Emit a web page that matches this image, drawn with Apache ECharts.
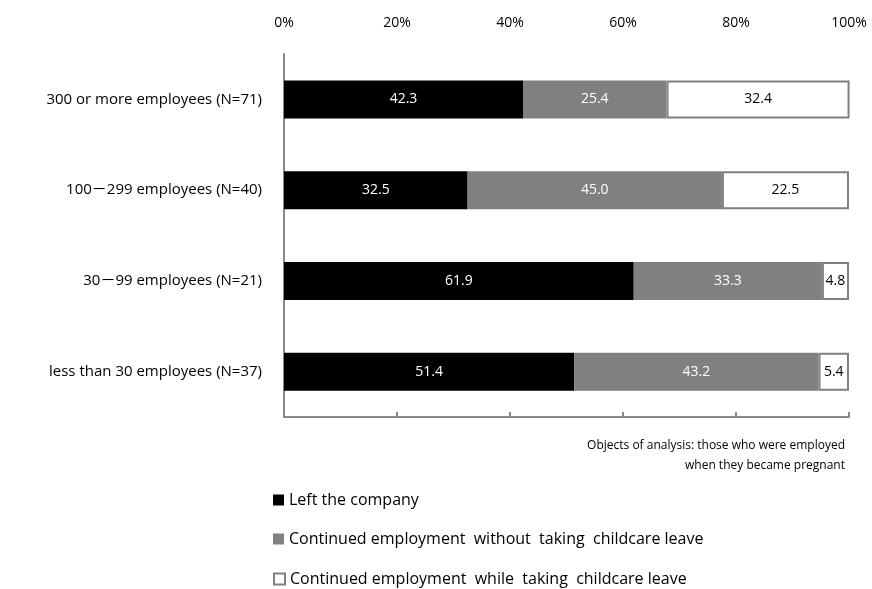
<!DOCTYPE html>
<html><head><meta charset="utf-8">
<script src="https://cdn.jsdelivr.net/npm/echarts@6/dist/echarts.min.js"></script>
<style>html,body{margin:0;padding:0;background:#fff}#c{width:872px;height:589px}</style>
</head><body><div id="c"></div>
<script>
const categories = ['300 or more employees (N=71)', '100－299 employees (N=40)', '30－99 employees (N=21)', 'less than 30 employees (N=37)'];
const leftCompany = [42.3, 32.5, 61.9, 51.4];
const continuedWithout = [25.4, 45.0, 33.3, 43.2];
const continuedWhile = [32.4, 22.5, 4.8, 5.4];
const seriesNames = ['Left the company', 'Continued employment  without  taking  childcare leave', 'Continued employment  while  taking  childcare leave'];
const tickLabels = ['0%', '20%', '40%', '60%', '80%', '100%'];

const FONT = '"Open Sans", "Noto Sans CJK JP", sans-serif';
const chart = echarts.init(document.getElementById('c'));
const lbl = (color) => ({show: true, position: 'inside', color: color, fontFamily: FONT, fontSize: 14, formatter: p => p.value.toFixed(1)});
const legendTops = [487, 526, 566];
const legendIconStyles = [
  {color: '#000000', borderWidth: 0},
  {color: '#808080', borderWidth: 0},
  {color: '#ffffff', borderColor: '#808080', borderWidth: 2}
];
chart.setOption({
  animation: false,
  textStyle: {fontFamily: FONT},
  grid: {left: 284, right: 23, top: 54, bottom: 172},
  xAxis: [
    {type: 'value', min: 0, max: 100, interval: 20, position: 'bottom',
     axisLine: {show: true, lineStyle: {color: '#898989', width: 2}},
     axisTick: {show: true, inside: true, length: 5, lineStyle: {color: '#898989', width: 2}},
     axisLabel: {show: false}, splitLine: {show: false}},
    {type: 'value', min: 0, max: 100, interval: 20, position: 'top',
     axisLine: {show: false}, axisTick: {show: false}, splitLine: {show: false},
     axisLabel: {show: true, margin: 24, color: '#000', fontSize: 14, fontFamily: FONT,
       formatter: v => tickLabels[v / 20]}}
  ],
  yAxis: {type: 'category', data: categories, inverse: true,
    axisLine: {show: true, lineStyle: {color: '#898989', width: 2}},
    axisTick: {show: false},
    axisLabel: {color: '#000', fontSize: 15, margin: 22, fontFamily: FONT}},
  legend: seriesNames.map((n, i) => ({orient: 'vertical', left: 268, top: legendTops[i], itemWidth: 11, itemHeight: 11,
    textStyle: {fontSize: 16, color: '#000', fontFamily: FONT},
    data: [{name: n, icon: 'rect', itemStyle: legendIconStyles[i]}]})),
  graphic: [
    {type: 'text', right: 27, top: 440, style: {text: 'Objects of analysis: those who were employed', fontSize: 12, fill: '#000', fontFamily: FONT, textAlign: 'right'}},
    {type: 'text', right: 27, top: 460, style: {text: 'when they became pregnant', fontSize: 12, fill: '#000', fontFamily: FONT, textAlign: 'right'}}
  ],
  series: [
    {name: seriesNames[0], type: 'bar', stack: 's', barWidth: 38, data: leftCompany,
     itemStyle: {color: '#000000'}, label: lbl('#fff')},
    {name: seriesNames[1], type: 'bar', stack: 's', barWidth: 38, data: continuedWithout,
     itemStyle: {color: '#808080'}, label: lbl('#fff')},
    {name: seriesNames[2], type: 'bar', stack: 's', barWidth: 38, data: continuedWhile,
     itemStyle: {color: '#ffffff', borderColor: '#808080', borderWidth: 2}, label: lbl('#000')}
  ]
});
</script></body></html>
